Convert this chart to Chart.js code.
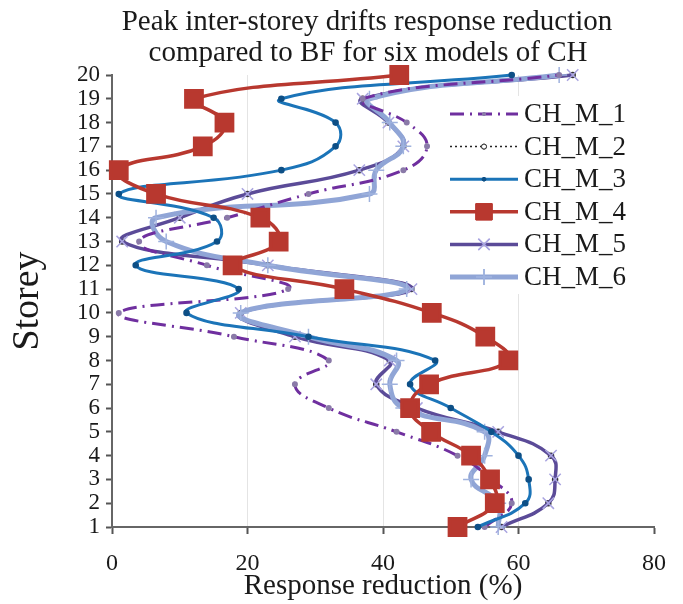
<!DOCTYPE html>
<html>
<head>
<meta charset="utf-8">
<script src="https://cdn.jsdelivr.net/npm/chart.js@4.4.0/dist/chart.umd.min.js"></script>
<style>
  html, body { margin: 0; padding: 0; background: #ffffff; }
  #wrap { width: 683px; height: 604px; }
</style>
</head>
<body>
<div id="wrap"><canvas id="c" width="683" height="604"></canvas></div>
<script>
// ---- data ----
const storeys = [1,2,3,4,5,6,7,8,9,10,11,12,13,14,15,16,17,18,19,20];
const seriesNames = ['CH_M_1','CH_M_2','CH_M_3','CH_M_4','CH_M_5','CH_M_6'];
const chM1 = [55, 59, 56, 51, 42, 32, 27, 32, 18, 1, 26, 14, 4, 17, 29, 43, 46.5, 43.5, 37, 66];
const chM2 = [57.5, 64.4, 65.4, 64.8, 57, 45, 39, 41, 27, 19, 44.2, 23, 1.5, 10, 20, 36.5, 43, 40.8, 37, 68];
const chM3 = [54, 61, 61.5, 60, 56, 50, 44, 47.7, 29, 11, 18.7, 3.5, 15.5, 15, 1, 25, 33, 33, 25, 59];
const chM4 = [51, 56.5, 55.8, 53, 47.1, 44, 46.8, 58.5, 55.1, 47.2, 34.3, 17.8, 24.6, 21.9, 6.5, 1.0, 13.4, 16.6, 12.1, 42.4];
const chM5 = [57.5, 64.4, 65.4, 64.8, 57, 45, 39, 41, 27, 19, 44.2, 23, 1.5, 10, 20, 36.5, 43, 40.8, 37, 68];
const chM6 = [57, 57, 53, 55, 55, 43, 41, 42, 29, 19, 43.5, 23, 8, 6.5, 38, 39, 43, 41, 38, 66];
const xTicks = [0, 20, 40, 60, 80];
const titleLines = ['Peak inter-storey drifts response reduction', 'compared to BF for six models of CH'];
const xTitle = 'Response reduction (%)';
const yTitle = 'Storey';

const pts = arr => arr.map((v, i) => ({ x: v, y: storeys[i] }));
const SERIF = '"Liberation Serif", "Times New Roman", serif';

const datasets = [
  { label: seriesNames[0], data: pts(chM1), borderColor: '#6f2f9f', borderWidth: 3,
    borderDash: [14, 6, 2, 6], pointStyle: 'circle', pointRadius: 1.5,
    pointBackgroundColor: '#8a7aa8', pointBorderColor: '#8a7aa8', order: 2 },
  { label: seriesNames[1], data: pts(chM2), borderColor: '#222222', borderWidth: 1.5,
    borderDash: [2, 3], pointStyle: 'circle', pointRadius: 2.5,
    pointBackgroundColor: '#ffffff', pointBorderColor: '#333333', order: 6 },
  { label: seriesNames[2], data: pts(chM3), borderColor: '#1b74b8', borderWidth: 3,
    pointStyle: 'circle', pointRadius: 1.8,
    pointBackgroundColor: '#0d4f86', pointBorderColor: '#0d4f86', order: 1 },
  { label: seriesNames[3], data: pts(chM4), borderColor: '#b8382f', borderWidth: 3.5,
    pointStyle: 'rect', pointRadius: 11.5,
    pointBackgroundColor: '#b8382f', pointBorderColor: '#b8382f', order: 0 },
  { label: seriesNames[4], data: pts(chM5), borderColor: '#5b4b98', borderWidth: 3.5,
    pointStyle: 'crossRot', pointRadius: 8, pointBorderWidth: 1.5,
    pointBackgroundColor: '#a9a4e0', pointBorderColor: '#a9a4e0', order: 4 },
  { label: seriesNames[5], data: pts(chM6), borderColor: '#90a5d6', borderWidth: 5,
    pointStyle: 'cross', pointRadius: 8, pointBorderWidth: 1.5,
    pointBackgroundColor: '#9fb2de', pointBorderColor: '#9fb2de', order: 3 }
];
datasets.forEach(d => { d.showLine = true; d.tension = 0.45; d.fill = false; d.clip = 14; d.pointHoverRadius = d.pointRadius; });

function drawMarker(ctx, ds, x, y) {
  if (!ds.pointRadius) return;
  ctx.save();
  ctx.setLineDash([]);
  ctx.fillStyle = ds.pointBackgroundColor;
  ctx.strokeStyle = ds.pointBorderColor;
  ctx.lineWidth = ds.pointBorderWidth || 1;
  Chart.helpers.drawPoint(ctx, { pointStyle: ds.pointStyle, radius: ds.pointRadius, rotation: 0, borderWidth: ds.pointBorderWidth || 1 }, x, y);
  ctx.fill();
  if ((ds.pointBorderWidth || 1) > 0) ctx.stroke();
  ctx.restore();
}

const overlay = {
  id: 'overlay',
  afterDatasetsDraw(chart) {
    const ctx = chart.ctx;
    ctx.save();
    // legend box (white background inside the plot)
    ctx.fillStyle = '#ffffff';
    ctx.fillRect(444, 96, 208, 198);
    const x0 = 450, x1 = 518, tx = 524, y0 = 114, dy = 32.6;
    datasets.forEach((ds, i) => {
      const y = y0 + i * dy;
      ctx.save();
      ctx.strokeStyle = ds.borderColor;
      ctx.lineWidth = ds.borderWidth;
      ctx.setLineDash(ds.borderDash || []);
      ctx.beginPath(); ctx.moveTo(x0, y); ctx.lineTo(x1, y); ctx.stroke();
      ctx.restore();
      drawMarker(ctx, ds, (x0 + x1) / 2, y);
      ctx.fillStyle = '#1a1a1a';
      ctx.font = '27px ' + SERIF;
      ctx.textAlign = 'left';
      ctx.textBaseline = 'middle';
      ctx.fillText(ds.label, tx, y + 1);
    });
    ctx.restore();
  },
  afterDraw(chart) {
    const ctx = chart.ctx;
    ctx.save();
    ctx.fillStyle = '#1a1a1a';
    ctx.font = '29px ' + SERIF;
    ctx.textAlign = 'center';
    ctx.textBaseline = 'middle';
    ctx.fillText(titleLines[0], 367, 22);
    ctx.fillText(titleLines[1], 368, 53);
    ctx.restore();
  }
};

new Chart(document.getElementById('c'), {
  type: 'scatter',
  data: { datasets },
  options: {
    responsive: false,
    animation: false,
    events: [],
    layout: { padding: { top: 75, right: 29, bottom: 0, left: 0 } },
    plugins: { legend: { display: false }, title: { display: false }, tooltip: { enabled: false } },
    scales: {
      x: {
        type: 'linear', min: 0, max: 80,
        afterBuildTicks(scale) { scale.ticks = xTicks.map(v => ({ value: v })); },
        afterFit(scale) { scale.height = 77; },
        ticks: { font: { family: SERIF, size: 24 }, color: '#1a1a1a', padding: 15 },
        grid: {
          color: ctx => (ctx.tick && (ctx.tick.value === 0 || ctx.tick.value === 80)) ? 'rgba(0,0,0,0)' : '#e4e4e4',
          lineWidth: 1, drawTicks: true, tickLength: 7, tickColor: '#555555', tickWidth: 2
        },
        border: { display: true, color: '#666666', width: 2 },
        title: { display: true, text: xTitle, font: { family: SERIF, size: 29 }, color: '#1a1a1a', padding: { top: 0, bottom: 0 } }
      },
      y: {
        type: 'linear', min: 1, max: 20,
        ticks: { stepSize: 1, autoSkip: false, font: { family: SERIF, size: 23 }, color: '#1a1a1a', padding: 6 },
        afterFit(scale) { scale.width = 112; },
        grid: { color: 'rgba(0,0,0,0)', drawTicks: true, tickLength: 6, tickColor: '#555555', tickWidth: 2 },
        border: { display: true, color: '#666666', width: 2 },
        title: { display: true, text: yTitle, font: { family: SERIF, size: 38 }, color: '#1a1a1a', padding: { top: 5, bottom: 0 } }
      }
    }
  },
  plugins: [overlay]
});
</script>
</body>
</html>
